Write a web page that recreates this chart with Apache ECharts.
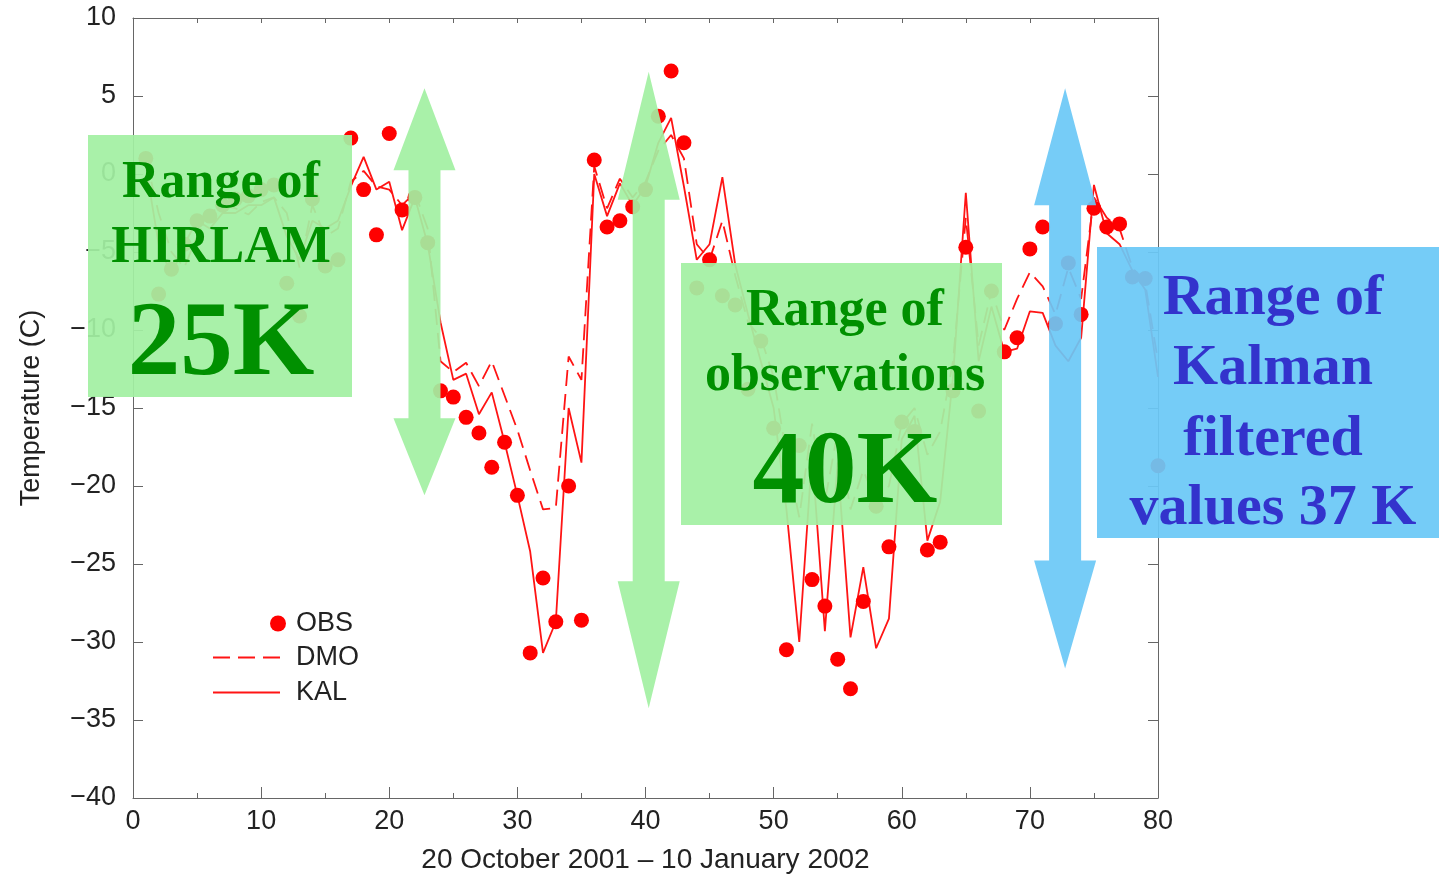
<!DOCTYPE html>
<html>
<head>
<meta charset="utf-8">
<script src="https://cdn.jsdelivr.net/npm/echarts@6/dist/echarts.min.js"></script>
<style>
  html, body { margin: 0; padding: 0; background: #ffffff; }
  #chart { width: 1439px; height: 879px; }
</style>
</head>
<body>
<div id="chart"></div>
<script>
// Day number of the forecast period (20 Oct 2001 - 10 Jan 2002)
const days = Array.from({ length: 80 }, (_, i) => i + 1);

// Observed 2 m temperature (C)
const obs = [
  1.0, -7.7, -6.1, -4.5, -3.0, -2.7, -2.0, -1.6, -1.4, -1.0,
  -0.7, -7.0, -9.1, -1.6, -5.9, -5.5, 2.3, -1.0, -3.9, 2.6,
  -2.3, -1.5, -4.4, -13.9, -14.3, -15.6, -16.6, -18.8, -17.2, -20.6,
  -30.7, -25.9, -28.7, -20.0, -28.6, 0.9, -3.4, -3.0, -2.1, -1.0,
  3.7, 6.6, 2.0, -7.3, -5.5, -7.8, -8.4, -13.8, -10.7, -16.3,
  -30.5, -17.4, -26.0, -27.7, -31.1, -33.0, -27.4, -21.3, -23.9, -15.9,
  -16.5, -24.1, -23.6, -13.9, -4.7, -15.2, -7.5, -11.4, -10.5, -4.8,
  -3.4, -9.6, -5.7, -9.0, -2.2, -3.4, -3.2, -6.6, -6.7, -18.7
];

// Direct model output (HIRLAM)
const dmo = [
  1.0, -2.5, -5.0, -6.0, -4.0, -2.5, -2.0, -2.2, -2.6, -1.8,
  -1.5, -2.5, -6.0, -2.0, -4.0, -3.5, -0.5, 0.2, -0.8, -1.0,
  -2.0, -1.2, -3.5, -12.0, -12.7, -12.1, -13.6, -12.0, -14.2, -16.4,
  -19.0, -21.5, -21.4, -11.7, -13.2, 0.5, -2.2, -0.3, -1.5, -0.5,
  1.5, 2.5, 1.0, -4.5, -5.5, -3.0, -6.5, -9.5, -10.5, -13.0,
  -18.0, -22.0, -16.0, -21.0, -16.5, -21.5, -19.0, -21.0, -20.0, -16.0,
  -15.0, -18.0, -16.5, -12.0, -2.8, -11.0, -7.5, -10.0, -8.0, -6.3,
  -7.2, -9.0, -6.0, -8.0, -1.5, -2.8, -3.5, -6.0, -7.0, -12.0
];

// Kalman filtered forecast
const kal = [
  0.5, -4.5, -6.5, -4.5, -3.0, -3.5, -2.5, -2.5, -2.0, -2.0,
  -1.5, -4.0, -5.5, -3.0, -3.5, -3.0, -0.8, 1.1, -1.0, -0.5,
  -3.6, -1.5, -4.5, -9.5, -13.2, -12.8, -15.4, -14.0, -17.2, -20.6,
  -24.2, -30.7, -28.7, -15.0, -18.5, 0.0, -2.7, -0.6, -2.0, -0.8,
  2.0, 3.6, -0.8, -5.5, -4.5, -0.2, -5.8, -9.0, -12.0, -15.0,
  -21.5, -30.0, -18.0, -29.3, -18.5, -29.7, -25.2, -30.4, -28.5, -17.0,
  -15.5, -23.5, -21.0, -13.0, -1.2, -12.0, -8.5, -11.4, -11.2, -8.8,
  -8.9, -11.0, -12.0, -10.5, -0.7, -3.8, -4.5, -6.2, -7.4, -13.0
];

// Axis extents and tick steps
const xRange = [0, 80], xStep = 10;
const yRange = [-40, 10], yStep = 5;

// Annotated ranges: arrow position (day) and the temperature span it covers
const ranges = [
  { day: 22.75, top: 5.5, bottom: -20.6, head: [82, 77], color: '#a2f0a2' },
  { day: 40.25, top: 6.55, bottom: -34.25, head: [128, 127], color: '#a2f0a2' },
  { day: 72.75, top: 5.5, bottom: -31.7, head: [117, 108], color: '#6ac8f6' }
];

const RED = '#ff1414';
const SANS = '"Liberation Sans", Arial, sans-serif';
const SERIF = '"Liberation Serif", "Times New Roman", serif';
const minus = v => String(v).replace('-', '\u2212');

const chart = echarts.init(document.getElementById('chart'), null, { renderer: 'canvas' });

const axisLine = { show: true, onZero: false, lineStyle: { color: '#666', width: 1 } };
const tickStyle = { color: '#666' };

// Legend icons: a dashed and a solid line segment
const dashIcon = 'path://M0,0H17V2H0Z M25,0H42V2H25Z M50,0H67V2H50Z';
const lineIcon = 'path://M0,0H67V2H0Z';

const option = {
  animation: false,
  backgroundColor: '#ffffff',
  grid: { left: 133, top: 18, right: 281, bottom: 79, containLabel: false },
  xAxis: [
    {
      type: 'value', position: 'bottom', min: xRange[0], max: xRange[1], interval: xStep,
      axisLine,
      axisTick: { inside: true, length: 11, lineStyle: tickStyle },
      minorTick: { show: true, splitNumber: 2, length: 5, lineStyle: tickStyle },
      splitLine: { show: false },
      axisLabel: { fontFamily: SANS, fontSize: 27, color: '#222', margin: 10 },
      name: '20 October 2001 \u2013 10 January 2002',
      nameLocation: 'middle', nameGap: 48,
      nameTextStyle: { fontFamily: SANS, fontSize: 28, color: '#222' }
    },
    {
      type: 'value', position: 'top', min: xRange[0], max: xRange[1], interval: xStep / 2,
      axisLine,
      axisTick: { inside: true, length: 5, lineStyle: tickStyle },
      axisLabel: { show: false }, splitLine: { show: false }
    }
  ],
  yAxis: [
    {
      type: 'value', position: 'left', min: yRange[0], max: yRange[1], interval: yStep,
      axisLine,
      axisTick: { inside: true, length: 10, lineStyle: tickStyle },
      splitLine: { show: false },
      axisLabel: { fontFamily: SANS, fontSize: 27, color: '#222', margin: 17, formatter: minus },
      name: 'Temperature (C)', nameLocation: 'middle', nameGap: 88, nameRotate: 90,
      nameTextStyle: { fontFamily: SANS, fontSize: 27, color: '#222' }
    },
    {
      type: 'value', position: 'right', min: yRange[0], max: yRange[1], interval: yStep,
      axisLine,
      axisTick: { inside: true, length: 10, lineStyle: tickStyle },
      axisLabel: { show: false }, splitLine: { show: false }
    }
  ],
  legend: [
    {
      data: ['OBS'], orient: 'vertical', left: 270, top: 610, padding: 0,
      itemWidth: 16, itemHeight: 16,
      textStyle: { fontFamily: SANS, fontSize: 27, color: '#222', padding: [0, 0, 0, 5] }
    },
    {
      data: [{ name: 'DMO', icon: dashIcon }], orient: 'vertical', left: 213, top: 644, padding: 0,
      itemWidth: 67, itemHeight: 2,
      textStyle: { fontFamily: SANS, fontSize: 27, color: '#222', padding: [0, 0, 0, 11] }
    },
    {
      data: [{ name: 'KAL', icon: lineIcon }], orient: 'vertical', left: 213, top: 679, padding: 0,
      itemWidth: 67, itemHeight: 2,
      textStyle: { fontFamily: SANS, fontSize: 27, color: '#222', padding: [0, 0, 0, 11] }
    }
  ],
  series: [
    {
      name: 'DMO', type: 'line', symbol: 'none', z: 2,
      data: days.map((d, i) => [d, dmo[i]]),
      lineStyle: { color: RED, width: 1.8, type: [16, 8] },
      itemStyle: { color: RED }
    },
    {
      name: 'KAL', type: 'line', symbol: 'none', z: 2,
      data: days.map((d, i) => [d, kal[i]]),
      lineStyle: { color: RED, width: 1.8 },
      itemStyle: { color: RED }
    },
    {
      name: 'OBS', type: 'scatter', symbol: 'circle', symbolSize: 15, z: 3,
      data: days.map((d, i) => [d, obs[i]]),
      itemStyle: { color: '#ff0000', opacity: 1 }
    }
  ]
};

chart.setOption(option);

// Double-headed arrow outline around a vertical centre line
function arrowShape(cx, yTop, yBot, headTop, headBot) {
  const hw = 31, sw = 16;
  return [
    [cx, yTop], [cx + hw, yTop + headTop], [cx + sw, yTop + headTop],
    [cx + sw, yBot - headBot], [cx + hw, yBot - headBot], [cx, yBot],
    [cx - hw, yBot - headBot], [cx - sw, yBot - headBot], [cx - sw, yTop + headTop],
    [cx - hw, yTop + headTop]
  ];
}

const overlays = [];
ranges.forEach(r => {
  const top = chart.convertToPixel({ xAxisIndex: 0, yAxisIndex: 0 }, [r.day, r.top]);
  const bot = chart.convertToPixel({ xAxisIndex: 0, yAxisIndex: 0 }, [r.day, r.bottom]);
  overlays.push({
    type: 'polygon', z: 50,
    shape: { points: arrowShape(top[0], top[1], bot[1], r.head[0], r.head[1]) },
    style: { fill: r.color, opacity: 0.92 }
  });
});

// Explanatory boxes
const boxes = [
  { x: 88, y: 135, w: 264, h: 262, fill: '#a2f0a2' },
  { x: 681, y: 263, w: 321, h: 262, fill: '#a2f0a2' },
  { x: 1097, y: 247, w: 342, h: 291, fill: '#6ac8f6' }
];
boxes.forEach(b => overlays.push({
  type: 'rect', z: 50,
  shape: { x: b.x, y: b.y, width: b.w, height: b.h },
  style: { fill: b.fill, opacity: 0.93 }
}));

const labels = [
  { t: 'Range of', x: 221, base: 195, size: 52, c: '#009000' },
  { t: 'HIRLAM', x: 221, base: 260, size: 52, c: '#009000' },
  { t: '25K', x: 221, base: 375, size: 105, c: '#009000' },
  { t: 'Range of', x: 845, base: 323, size: 52, c: '#009000' },
  { t: 'observations', x: 845, base: 388, size: 52, c: '#009000' },
  { t: '40K', x: 845, base: 503, size: 104, c: '#009000' },
  { t: 'Range of', x: 1273, base: 313, size: 58, c: '#3333cc' },
  { t: 'Kalman', x: 1273, base: 383, size: 58, c: '#3333cc' },
  { t: 'filtered', x: 1273, base: 454, size: 58, c: '#3333cc' },
  { t: 'values 37 K', x: 1273, base: 523, size: 58, c: '#3333cc' }
];
labels.forEach(l => overlays.push({
  type: 'text', z: 60,
  style: {
    text: l.t, x: l.x, y: l.base - 0.32 * l.size + 5,
    font: 'bold ' + l.size + 'px ' + SERIF,
    fill: l.c, align: 'center', verticalAlign: 'middle',
    textAlign: 'center', textVerticalAlign: 'middle'
  }
}));

chart.setOption({ graphic: { elements: overlays } });
</script>
</body>
</html>
